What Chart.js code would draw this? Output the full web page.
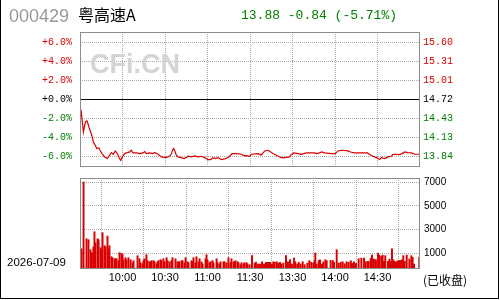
<!DOCTYPE html>
<html>
<head>
<meta charset="utf-8">
<script src="https://cdn.jsdelivr.net/npm/chart.js@4.4.1/dist/chart.umd.min.js"></script>
<style>
  body { margin: 0; background: #fff; }
  #wrap { position: relative; width: 500px; height: 300px; overflow: hidden; background: #fff; }
  #wrap div { position: absolute; white-space: nowrap; }
  #code { left: 9px; top: 7px; font: 18px/18px "Liberation Sans", Arial, sans-serif; color: #999; }
  #name { left: 78px; top: 6px; font: 16px/16px "Noto Sans CJK SC", sans-serif; color: #000; }
  #quote { left: 241px; top: 9px; font: 13px/13px "Liberation Mono", monospace; color: #008000; }
  #mark { left: 90px; top: 51px; font: bold 27px/27px "Liberation Sans", Arial, sans-serif; color: #d4d4d4; }
  #date { left: 7px; top: 257px; font: 11.5px/11.5px "Liberation Sans", Arial, sans-serif; color: #000; }
  #closed { left: 423px; top: 274px; font: 12px/12px "Noto Sans CJK SC", sans-serif; color: #000; }
  #frame { left: 0; top: 0; width: 497px; height: 298px; border-left: 1px solid #000; border-right: 1px solid #000; border-bottom: 1px solid #000; }
  canvas { position: absolute; left: 0; }
  #price { top: 25px; }
  #volume { top: 175px; }
</style>
</head>
<body>
<div id="wrap">
  <canvas id="price" width="500" height="150"></canvas>
  <canvas id="volume" width="500" height="125"></canvas>
  <div id="mark">CFi.CN</div>
  <div id="code">000429</div>
  <div id="name">粤高速A</div>
  <div id="quote">13.88 -0.84 (-5.71%)</div>
  <div id="date">2026-07-09</div>
  <div id="closed">(已收盘)</div>
  <div id="frame"></div>
</div>
<script>
// previous close, everything in the top chart is % off this
const basePrice = 14.72;
const pctTicks = [-6, -5, -4, -3, -2, -1, 0, 1, 2, 3, 4, 5, 6];
const volTicks = [1000, 3000, 5000, 7000];
// minutes after 9:30 (lunch break squeezed out)
const timeTicks = [30, 60, 90, 120, 150, 180, 210];
const timeLabels = ["10:00", "10:30", "11:00", "11:30", "13:30", "14:00", "14:30"];

const priceMin = [0.7, 2.4, 2.8, 3.8, 4.9, 5.6, 6.6, 7.5, 8.5, 9.4, 10.8, 11.8, 13.2, 14.1, 15.5, 17.4, 19.3, 20.9, 22.1, 23.5,
  24.9, 26.4, 27.8, 28.7, 29.9, 31.5, 33.4, 35.1, 36.2, 37.4, 39.8, 42.1, 44.5, 45.7, 46.8, 49.2, 51.5, 52.7, 55.1, 57.4,
  60.2, 62.1, 64.0, 64.9, 65.9, 66.8, 68.0, 69.2, 71.5, 73.4, 75.1, 76.2, 78.6, 80.9, 83.3, 85.7, 88.0, 90.4, 92.2, 93.9,
  95.5, 97.4, 99.8, 102.1, 104.5, 106.4, 107.3, 110.4, 113.9, 116.2, 117.4, 119.8, 120.9, 125.6, 128.0, 130.4, 132.7, 134.6, 136.2, 138.6,
  140.9, 142.1, 144.5, 148.0, 148.7, 151.1, 153.9, 156.2, 159.8, 165.7, 166.8, 169.2, 170.4, 172.7, 177.4, 180.2, 182.1, 184.5, 189.2, 191.5,
  193.9, 202.8, 204.5, 206.8, 209.2, 211.5, 212.7, 215.1, 217.4, 219.8, 220.9, 225.6, 227.3, 229.2, 231.5, 233.9, 236.2, 239.0, 240];
const pricePct = [-1.06, -3.41, -3.41, -2.35, -2.25, -2.53, -3.06, -3.41, -3.86, -4.46, -4.81, -5.16, -5.09, -5.34, -5.69, -6.04, -6.21, -5.86, -5.58, -5.76,
  -5.41, -5.69, -6.21, -6.39, -6.04, -5.69, -5.58, -5.51, -5.34, -5.62, -5.62, -5.69, -5.62, -5.48, -5.69, -5.62, -5.69, -5.58, -5.76, -6.04,
  -6.11, -6.04, -5.86, -5.51, -5.16, -5.34, -5.86, -6.04, -6.11, -6.21, -6.11, -5.97, -6.04, -5.93, -6.04, -5.97, -6.11, -6.32, -6.32, -6.11,
  -6.21, -6.11, -6.32, -6.25, -6.11, -5.86, -5.69, -5.69, -5.76, -5.93, -5.90, -5.97, -5.76, -5.69, -5.83, -5.41, -5.34, -5.51, -5.69, -5.86,
  -6.04, -6.11, -6.11, -6.04, -5.86, -5.62, -5.69, -5.76, -5.62, -5.62, -5.69, -5.62, -5.51, -5.62, -5.69, -5.69, -5.41, -5.34, -5.41, -5.55,
  -5.62, -5.62, -5.79, -5.97, -6.11, -6.32, -6.11, -6.21, -6.04, -5.97, -5.76, -5.79, -5.69, -5.51, -5.58, -5.62, -5.76, -5.76, -5.71];

const volMin = [1.1, 2.5, 4.6, 6.0, 7.4, 8.4, 9.5, 10.2, 10.9, 12.4, 13.1, 14.5, 15.2, 15.9, 17.3, 18.0, 19.4, 20.1, 20.8, 22.2,
  22.9, 24.4, 25.1, 25.8, 27.2, 27.9, 29.3, 30.0, 30.7, 32.1, 32.8, 34.2, 35.7, 37.1, 37.8, 40.6, 42.0, 42.7, 44.1, 44.8,
  45.5, 46.9, 47.7, 49.1, 49.8, 50.5, 51.9, 52.6, 54.0, 54.7, 55.4, 56.8, 57.5, 58.9, 59.7, 61.1, 61.8, 63.2, 64.6, 65.3,
  67.4, 68.8, 69.5, 70.2, 71.7, 72.4, 73.8, 74.5, 75.9, 76.6, 78.7, 79.4, 80.1, 81.5, 82.2, 83.7, 84.4, 85.8, 86.5, 88.6,
  89.3, 90.0, 91.4, 92.1, 93.5, 94.2, 96.4, 97.1, 98.5, 99.2, 101.3, 102.0, 103.4, 104.8, 106.2, 106.9, 108.4, 109.1, 109.8, 111.2,
  111.9, 113.3, 114.0, 115.4, 116.1, 117.5, 118.2, 119.7, 121.4, 123.3, 124.2, 125.7, 127.1, 128.5, 129.9, 131.3, 132.7, 134.1, 135.5, 136.5,
  137.4, 138.8, 139.8, 141.2, 142.1, 143.5, 145.4, 146.8, 148.2, 149.6, 151.1, 152.0, 153.4, 154.4, 155.8, 157.2, 158.6, 160.5, 161.9, 163.3,
  164.7, 165.6, 166.1, 167.1, 168.5, 169.4, 170.8, 171.8, 173.2, 174.1, 176.9, 178.4, 179.3, 181.2, 182.6, 184.0, 185.4, 186.8, 188.2, 189.6,
  191.1, 192.0, 193.4, 194.8, 196.7, 198.6, 200.5, 201.4, 202.8, 203.8, 205.2, 206.1, 207.5, 208.9, 210.4, 211.3, 212.7, 213.6, 214.6, 215.5,
  217.4, 218.4, 219.3, 220.2, 221.2, 222.1, 223.1, 224.0, 224.9, 225.9, 227.3, 228.2, 229.2, 230.6, 232.5, 233.9, 234.8, 235.8, 239.5];
const volQty = [1390, 7000, 2230, 2150, 1310, 1060, 1560, 2820, 1900, 2230, 2150, 1480, 1310, 2740, 1650, 1560, 2460, 1390, 1650, 720,
  640, 550, 550, 550, 390, 1060, 1000, 920, 470, 640, 470, 640, 470, 220, 390, 810, 550, 220, 130, 390,
  550, 890, 390, 300, 300, 390, 390, 300, 130, 300, 390, 470, 390, 550, 300, 640, 390, 300, 390, 640,
  550, 300, 300, 300, 390, 390, 220, 640, 300, 220, 390, 300, 640, 220, 720, 300, 550, 300, 130, 550,
  890, 470, 220, 300, 390, 220, 550, 220, 130, 300, 300, 300, 220, 640, 220, 550, 300, 300, 390, 300,
  220, 50, 220, 130, 220, 220, 130, 50, 810, 190, 270, 110, 110, 300, 110, 250, 250, 250, 110, 300,
  250, 300, 190, 250, 110, 190, 810, 300, 470, 110, 610, 300, 110, 250, 110, 300, 50, 190, 390, 250,
  190, 390, 1030, 110, 390, 470, 110, 300, 470, 390, 410, 410, 250, 1310, 190, 250, 300, 130, 300, 250,
  390, 190, 300, 160, 550, 610, 610, 300, 330, 330, 580, 860, 530, 470, 1030, 860, 750, 860, 330, 810,
  330, 530, 330, 1390, 470, 330, 250, 360, 390, 410, 470, 810, 330, 860, 530, 810, 670, 110, 670];

const red = "#d80000";
const green = "#008000";
const gridGrey = "#a8a8a8";
const monoFont = { family: "Liberation Mono, monospace", size: 10 };
const sansFont = { family: "Liberation Sans, Arial, sans-serif", size: 10 };

const pctMin = -7.1, pctMax = 7.1;
const volLow = -310, volHigh = 7340;

// grey box round each plot area
const frame = {
  id: "frame",
  afterDraw(chart) {
    const a = chart.chartArea;
    const c = chart.ctx;
    c.save();
    c.strokeStyle = "#8c8c8c";
    c.lineWidth = 1;
    c.strokeRect(a.left + 0.5, a.top + 0.5, a.right - a.left - 1, a.bottom - a.top - 1);
    c.restore();
  },
};

// fixed axis sizes, no extra room for half-labels
const fixWidth = (s) => {
  s.width = 80;
  s.paddingTop = 0;
  s.paddingBottom = 0;
};
const fixHeight = (h) => (s) => {
  s.height = h;
  s.paddingLeft = 0;
  s.paddingRight = 0;
};

const tickColor = (ctx) => (ctx.tick.value > 0 ? red : ctx.tick.value < 0 ? green : "#000");

const priceChart = new Chart(document.getElementById("price").getContext("2d"), {
  type: "line",
  data: {
    datasets: [
      {
        data: priceMin.map((m, i) => ({ x: m, y: pricePct[i] })),
        borderColor: red,
        borderWidth: 1.2,
        pointRadius: 0,
        tension: 0,
        yAxisID: "y",
      },
    ],
  },
  options: {
    responsive: false,
    animation: false,
    layout: { padding: { top: 7, bottom: 8, left: 0, right: 0 } },
    plugins: { legend: { display: false }, tooltip: { enabled: false } },
    scales: {
      x: {
        type: "linear",
        min: 0,
        max: 240,
        afterBuildTicks: (s) => { s.ticks = timeTicks.map((v) => ({ value: v })); },
        afterFit: fixHeight(0),
        ticks: { display: false },
        grid: { color: gridGrey, drawTicks: false },
        border: { display: false, dash: [1, 1] },
      },
      y: {
        position: "left",
        min: pctMin,
        max: pctMax,
        afterBuildTicks: (s) => { s.ticks = pctTicks.map((v) => ({ value: v })); },
        afterFit: fixWidth,
        ticks: {
          padding: 8,
          font: monoFont,
          color: tickColor,
          callback: (v) => (v % 2 ? "" : (v >= 0 ? "+" : "") + v.toFixed(1) + "%"),
        },
        grid: {
          drawTicks: false,
          color: (ctx) => (ctx.tick && ctx.tick.value === 0 ? "#000" : gridGrey),
        },
        border: { display: false, dash: (ctx) => (ctx.tick && ctx.tick.value === 0 ? [] : [1, 1]) },
      },
      y2: {
        position: "right",
        min: pctMin,
        max: pctMax,
        afterBuildTicks: (s) => { s.ticks = pctTicks.map((v) => ({ value: v })); },
        afterFit: fixWidth,
        ticks: {
          padding: 3,
          font: monoFont,
          color: tickColor,
          callback: (v) => (v % 2 ? "" : (basePrice * (1 + v / 100)).toFixed(2)),
        },
        grid: { drawOnChartArea: false, drawTicks: false },
        border: { display: false },
      },
    },
  },
  plugins: [frame],
});

const volumeChart = new Chart(document.getElementById("volume").getContext("2d"), {
  type: "bar",
  data: {
    datasets: [
      {
        data: volMin.map((m, i) => ({ x: m, y: volQty[i] })),
        backgroundColor: red,
        barThickness: 1.3,
        base: volLow,
      },
    ],
  },
  options: {
    responsive: false,
    animation: false,
    layout: { padding: { top: 3, bottom: 0, left: 80, right: 0 } },
    plugins: { legend: { display: false }, tooltip: { enabled: false } },
    scales: {
      x: {
        type: "linear",
        min: 0,
        max: 240,
        offset: false,
        afterBuildTicks: (s) => { s.ticks = timeTicks.map((v) => ({ value: v })); },
        afterFit: fixHeight(31),
        ticks: {
          padding: 2,
          maxRotation: 0,
          autoSkip: false,
          color: "#000",
          font: { family: "Liberation Sans, Arial, sans-serif", size: 11 },
          callback: (v) => timeLabels[timeTicks.indexOf(v)],
        },
        grid: { color: gridGrey, drawTicks: false },
        border: { display: false, dash: [1, 1] },
      },
      y: {
        position: "right",
        min: volLow,
        max: volHigh,
        afterBuildTicks: (s) => { s.ticks = volTicks.map((v) => ({ value: v })); },
        afterFit: fixWidth,
        ticks: { padding: 4, color: "#000", font: sansFont, callback: (v) => String(v) },
        grid: { color: gridGrey, drawTicks: false },
        border: { display: false, dash: [1, 1] },
      },
    },
  },
  plugins: [frame],
});
</script>
</body>
</html>
